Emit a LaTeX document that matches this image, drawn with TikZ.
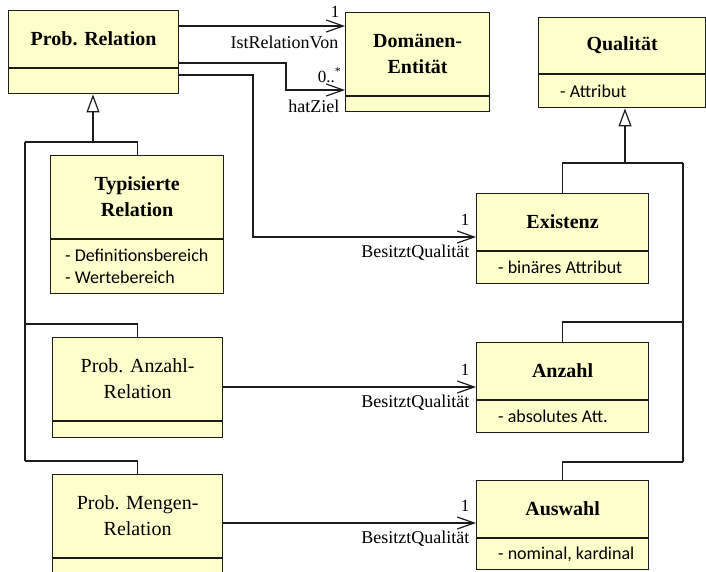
\documentclass[tikz,border=0pt]{standalone}
\usepackage{fontspec}
\setmainfont{Liberation Serif}[BoldFont={Liberation Serif Bold}]
\newfontfamily\attrfont{Carlito}
\usetikzlibrary{arrows.meta}
\definecolor{boxfill}{HTML}{FFFFCC}
\definecolor{ink}{HTML}{1C1C1C}
\begin{document}
\begin{tikzpicture}[x=1pt,y=-1pt,
  wire/.style={draw=ink, line width=1.2pt},
  assoc/.style={wire, -{Straight Barb[length=17pt,width=12pt]}},
  gen/.style={wire, -{Triangle[length=18pt,width=13pt,fill=white]}},
  compart/.style={draw=ink, fill=boxfill, line width=1.2pt, inner sep=0pt, anchor=north west},
  head/.style={compart, align=center, font=\fontsize{20}{26}\selectfont\bfseries},
  headplain/.style={compart, align=center, font=\fontsize{20}{26}\selectfont},
  attrtext/.style={inner sep=0pt, anchor=west, align=left, font=\attrfont\fontsize{18}{22}\selectfont},
  lbl/.style={inner sep=0pt, anchor=base east, font=\fontsize{18}{20}\selectfont},
  mult/.style={inner sep=0pt, anchor=base east, font=\fontsize{17}{20}\selectfont}]
\clip (0,0) rectangle (706,571);
\fill[white] (0,0) rectangle (706,571);

% ---- classes ----
\node[head, minimum width=170pt, minimum height=57pt] (rel) at (8,10) {Prob. Relation};
\node[compart, minimum width=170pt, minimum height=25pt] (rel-a) at (rel.south west) {};

\node[head, minimum width=144pt, minimum height=83pt] (dom) at (345,12) {Domänen-\\Entität};
\node[compart, minimum width=144pt, minimum height=15pt] (dom-a) at (dom.south west) {};

\node[head, minimum width=167pt, minimum height=56pt] (qual) at (538,17) {Qualität};
\node[compart, minimum width=167pt, minimum height=33pt] (qual-a) at (qual.south west) {};
\node[attrtext] (qual-t) at ([xshift=22pt]qual-a.west) {-~Attribut};

\node[head, minimum width=173pt, minimum height=83pt] (typ) at (50,155) {Typisierte\\Relation};
\node[compart, minimum width=173pt, minimum height=54pt] (typ-a) at (typ.south west) {};
\node[attrtext] (typ-t) at ([xshift=15pt]typ-a.west) {-~Definitionsbereich\\-~Wertebereich};

\node[head, minimum width=172pt, minimum height=57pt] (exi) at (476,193) {Existenz};
\node[compart, minimum width=172pt, minimum height=32pt] (exi-a) at (exi.south west) {};
\node[attrtext] (exi-t) at ([xshift=22pt]exi-a.west) {-~binäres Attribut};

\node[headplain, minimum width=170pt, minimum height=83pt] (anzrel) at (52,337) {Prob. Anzahl-\\Relation};
\node[compart, minimum width=170pt, minimum height=16pt] (anzrel-a) at (anzrel.south west) {};

\node[head, minimum width=172pt, minimum height=57pt] (anz) at (476,342) {Anzahl};
\node[compart, minimum width=172pt, minimum height=32pt] (anz-a) at (anz.south west) {};
\node[attrtext] (anz-t) at ([xshift=22pt]anz-a.west) {-~absolutes Att.};

\node[headplain, minimum width=170pt, minimum height=83pt] (menrel) at (52,474) {Prob. Mengen-\\Relation};
\node[compart, minimum width=170pt, minimum height=30pt] (menrel-a) at (menrel.south west) {};

\node[head, minimum width=172pt, minimum height=57pt] (ausw) at (476,480) {Auswahl};
\node[compart, minimum width=172pt, minimum height=31pt] (ausw-a) at (ausw.south west) {};
\node[attrtext] (ausw-t) at ([xshift=22pt]ausw-a.west) {-~nominal, kardinal};

% ---- associations ----
\coordinate (a1) at ([yshift=-16pt]rel.north east);
\draw[assoc] (a1) -- (a1 -| dom.west)
  node[mult, pos=1, xshift=-5pt, yshift=9pt] {1}
  node[lbl, pos=1, xshift=-6pt, yshift=-22pt] {IstRelationVon};

\coordinate (a2) at ([yshift=-53pt]rel.north east);
\coordinate (b2) at (286,90);
\draw[assoc] (a2) -| (b2) -- (b2 -| dom.west)
  node[mult, pos=1, xshift=-3pt, yshift=8pt] {0..\textsuperscript{*}}
  node[lbl, pos=1, xshift=-5pt, yshift=-22pt] {hatZiel};

\coordinate (a3) at ([yshift=-65pt]rel.north east);
\coordinate (b3) at (253,237);
\draw[assoc] (a3) -| (b3) -- (b3 -| exi.west)
  node[mult, pos=1, xshift=-6pt, yshift=12pt] {1}
  node[lbl, pos=1, xshift=-6pt, yshift=-20pt] {BesitztQualität};

\coordinate (a4) at ([yshift=-50pt]anzrel.north east);
\draw[assoc] (a4) -- (a4 -| anz.west)
  node[mult, pos=1, xshift=-6pt, yshift=12pt] {1}
  node[lbl, pos=1, xshift=-6pt, yshift=-20pt] {BesitztQualität};

\coordinate (a5) at ([yshift=-49pt]menrel.north east);
\draw[assoc] (a5) -- (a5 -| ausw.west)
  node[mult, pos=1, xshift=-6pt, yshift=12pt] {1}
  node[lbl, pos=1, xshift=-6pt, yshift=-20pt] {BesitztQualität};

% ---- generalisation: relations ----
\coordinate (jL) at (93,142);
\coordinate (busT) at (25,142);
\coordinate (busM) at (25,324);
\coordinate (busB) at (25,461);
\draw[gen] (jL) -- (jL |- rel-a.south);
\draw[wire] (busT) -- (busB);
\draw[wire] (busT) -| (typ.north);
\draw[wire] (busM) -| (anzrel.north);
\draw[wire] (busB) -| (menrel.north);

% ---- generalisation: qualities ----
\coordinate (jR) at (625,163);
\coordinate (rbT) at (683,163);
\coordinate (rbM) at (683,322);
\coordinate (rbB) at (683,462);
\draw[gen] (jR) -- (jR |- qual-a.south);
\draw[wire] (rbT) -- (rbB);
\draw[wire] (rbT) -| (exi.north);
\draw[wire] (rbM) -| (anz.north);
\draw[wire] (rbB) -| (ausw.north);
\end{tikzpicture}
\end{document}
